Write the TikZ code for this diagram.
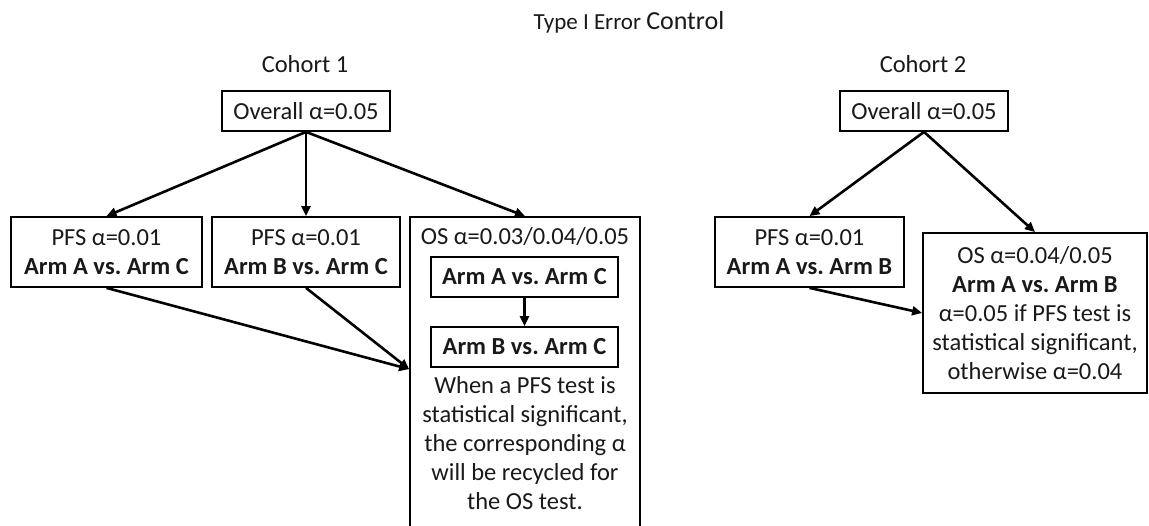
\documentclass[tikz,border=0pt]{standalone}
\usepackage{fontspec}
\setmainfont{Carlito}
\usetikzlibrary{arrows.meta,calc}
\definecolor{ink}{RGB}{25,25,25}
\frenchspacing
\begin{document}
\begin{tikzpicture}[x=1pt,y=-1pt,
  txt/.style={text=ink, font=\fontsize{24.5}{29}\selectfont, inner sep=0pt, align=center},
  box/.style={txt, draw=black, line width=1.8pt},
  arr/.style={-{Triangle[length=10pt,width=9pt]}, line width=2.6pt, draw=black}]
\useasboundingbox (0,0) rectangle (1149,525);
\clip (0,0) rectangle (1149,525);

\node[txt, anchor=base] (title) at (629,29) {\fontsize{23}{28}\selectfont Type I Error \fontsize{26}{30}\selectfont Control};

% Cohort 1
\node[txt, anchor=base] (c1) at (305,72) {Cohort 1};
\node[box, minimum width=168pt, minimum height=40pt] (ov1) at (306,111) {Overall α=0.05};
\node[box, minimum width=191pt, minimum height=70pt] (pfs1) at (106.5,252) {PFS α=0.01\\\textbf{Arm A vs. Arm C}};
\node[box, minimum width=188pt, minimum height=70pt] (pfs2) at (306,252) {PFS α=0.01\\\textbf{Arm B vs. Arm C}};
\node[box, minimum width=230pt, minimum height=330pt] (os1) at (525,382) {};
\node[txt, anchor=base] (oslab) at (525,244) {OS α=0.03/0.04/0.05};
\node[box, minimum width=187pt, minimum height=40pt] (ac) at (524.5,277) {\textbf{Arm A vs. Arm C}};
\node[box, minimum width=187pt, minimum height=40pt] (bc) at (524.5,347) {\textbf{Arm B vs. Arm C}};
\node[txt] (note) at (525,443) {When a PFS test is\\statistical significant,\\the corresponding α\\will be recycled for\\the OS test.};
\coordinate (os1in) at ([yshift=-153pt]os1.north west);

\draw[arr] (ov1.south) -- (pfs1.north);
\draw[arr] (ov1.south) -- (pfs2.north);
\draw[arr] (ov1.south) -- (os1.north);
\draw[arr] (pfs1.south) -- (os1in);
\draw[arr] (pfs2.south) -- (os1in);
\draw[arr] (ac.south) -- (bc.north);

% Cohort 2
\node[txt, anchor=base] (c2) at (923,72) {Cohort 2};
\node[box, minimum width=168pt, minimum height=40pt] (ov2) at (924,111) {Overall α=0.05};
\node[box, minimum width=189pt, minimum height=70pt] (pfs3) at (809.5,252) {PFS α=0.01\\\textbf{Arm A vs. Arm B}};
\node[box, minimum width=224pt, minimum height=160pt] (os2) at (1035,313) {OS α=0.04/0.05\\\textbf{Arm A vs. Arm B}\\α=0.05 if PFS test is\\statistical significant,\\otherwise α=0.04};

\draw[arr] (ov2.south) -- (pfs3.north);
\draw[arr] (ov2.south) -- (os2.north);
\draw[arr] (pfs3.south) -- (os2.west);
\end{tikzpicture}
\end{document}
